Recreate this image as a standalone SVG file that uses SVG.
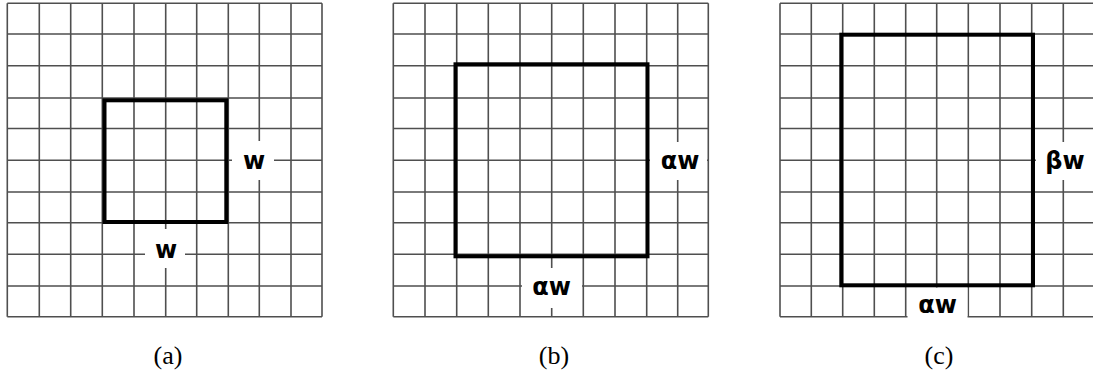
<svg xmlns="http://www.w3.org/2000/svg" width="1093" height="373" viewBox="0 0 1093 373">
<style>
.grid{stroke:#4f4f4f;stroke-width:1.6;fill:none}
.box{stroke:#000;stroke-width:4;fill:none;stroke-linejoin:miter}
.mask{fill:#fff;stroke:none}
.lbl{font-family:"DejaVu Sans",sans-serif;font-weight:bold;font-size:24px;fill:#000;text-anchor:middle}
.cap{font-family:"Liberation Serif",serif;font-size:26px;fill:#000;text-anchor:middle}
</style>
<rect width="1093" height="373" fill="#fff"/>
<g id="panel-a">
<path class="grid" d="M7.3 3.3V316.7M39.3 3.3V316.7M70.7 3.3V316.7M102.3 3.3V316.7M134 3.3V316.7M165.7 3.3V316.7M196.7 3.3V316.7M228.3 3.3V316.7M259.3 3.3V316.7M291 3.3V316.7M322 3.3V316.7
M7.3 3.3H322M7.3 34H322M7.3 65.7H322M7.3 98H322M7.3 128.5H322M7.3 160.3H322M7.3 192H322M7.3 222.8H322M7.3 254.3H322M7.3 286H322M7.3 316.7H322"/>
<rect class="mask" x="232" y="141" width="42" height="39"/>
<rect class="mask" x="145" y="229" width="40" height="39"/>
<rect class="box" x="104.5" y="100.3" width="121.8" height="121.7"/>
<text class="lbl" x="254" y="169.3">w</text>
<text class="lbl" x="166" y="258.3">w</text>
<text class="cap" x="168" y="364">(a)</text>
</g>
<g id="panel-b">
<path class="grid" d="M393.3 3.3V316.7M425 3.3V316.7M456.7 3.3V316.7M488.3 3.3V316.7M520 3.3V316.7M551.7 3.3V316.7M583.3 3.3V316.7M615 3.3V316.7M646.7 3.3V316.7M677.7 3.3V316.7M708.3 3.3V316.7
M393.3 3.3H708.3M393.3 34H708.3M393.3 65.7H708.3M393.3 98H708.3M393.3 128.5H708.3M393.3 160.3H708.3M393.3 192H708.3M393.3 222.8H708.3M393.3 254.3H708.3M393.3 286H708.3M393.3 316.7H708.3"/>
<rect class="mask" x="650" y="142" width="57" height="38"/>
<rect class="mask" x="522" y="268" width="60" height="40"/>
<rect class="box" x="455.5" y="64.3" width="192" height="192"/>
<text class="lbl" x="680" y="169.3">αw</text>
<text class="lbl" x="551.7" y="295">αw</text>
<text class="cap" x="554" y="364">(b)</text>
</g>
<g id="panel-c">
<path class="grid" d="M780 3.3V316.7M811.3 3.3V316.7M842.7 3.3V316.7M874.3 3.3V316.7M905.7 3.3V316.7M936.7 3.3V316.7M968.3 3.3V316.7M1000 3.3V316.7M1031.7 3.3V316.7M1063.3 3.3V316.7
M780 3.3H1095M780 34H1095M780 65.7H1095M780 98H1095M780 128.5H1095M780 160.3H1095M780 192H1095M780 222.8H1095M780 254.3H1095M780 286H1095M780 316.7H1095"/>
<rect class="mask" x="1036" y="142" width="60" height="38"/>
<rect class="mask" x="907.5" y="287.5" width="60" height="33"/>
<rect class="box" x="841.3" y="34.7" width="191.7" height="250.6"/>
<text class="lbl" x="1065" y="169.3">βw</text>
<text class="lbl" x="937.7" y="313.3">αw</text>
<text class="cap" x="939" y="364">(c)</text>
</g>
</svg>
